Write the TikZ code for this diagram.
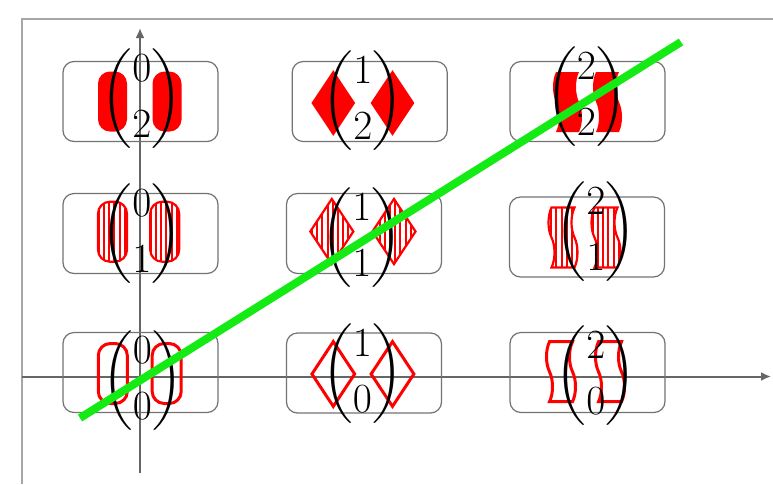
\documentclass[tikz,border=0pt]{standalone}
\usepackage{amsmath}
\usetikzlibrary{shapes.geometric,shapes.symbols,arrows.meta,patterns.meta}
\begin{document}
\begin{tikzpicture}[x=0.5pt,y=-0.5pt,
  cell/.style={draw=black!55, line width=0.6pt, rounded corners=5.5pt,
    minimum width=77.5pt, minimum height=40pt, inner sep=0pt},
  entry/.style={inner sep=0pt, font=\fontsize{20}{24}\selectfont},
  solidfill/.style={fill=red, draw=none},
  striped/.style={draw=red, line width=1.1pt,
    pattern={Lines[angle=90,distance=2.6pt,line width=1pt]}, pattern color=red},
  outlined/.style={draw=red, line width=1.5pt},
  pill/.style={rectangle, rounded corners=6pt, inner sep=0pt,
    minimum width=14.5pt, minimum height=30pt},
  rhomb/.style={diamond, inner sep=0pt, minimum width=22pt, minimum height=33pt},
  band/.style={tape, rotate=90, tape bend height=3pt, inner sep=0pt,
    minimum width=30pt, minimum height=14.5pt},
  axis/.style={draw=black!60, line width=1pt, -{Latex[length=5pt,width=4.5pt]}},
  frameline/.style={draw=black!35, line width=1pt},
]
\useasboundingbox[fill=white] (0,0) rectangle (773,484);

% outer frame
\coordinate (fc) at (21.7,19);
\coordinate (fr) at (773,19);
\coordinate (fb) at (21.7,484);
\draw[frameline] (fb) -- (fc) -- (fr);

% axes
\coordinate (xs) at (21.7,376.5);
\coordinate (xe) at (771,376.5);
\coordinate (ys) at (140,473);
\coordinate (ye) at (140,28);
\draw[axis] (xs) -- (xe);
\draw[axis] (ys) -- (ye);

% boxes
\node[cell] (b20) at (140.5,101.5) {};
\node[cell] (b21) at (369.7,101.5) {};
\node[cell] (b22) at (587.5,101.5) {};
\node[cell] (b10) at (140.5,233.5) {};
\node[cell] (b11) at (364,233.5) {};
\node[cell] (b12) at (587,237) {};
\node[cell] (b00) at (140.5,372.5) {};
\node[cell] (b01) at (364,373) {};
\node[cell] (b02) at (587.5,372.5) {};

% top row: solid shapes
\node[pill,solidfill] (l20) at (112.5,101.5) {};
\node[pill,solidfill] (r20) at (167,101.5) {};
\node[rhomb,solidfill] (l21) at (333.3,103) {};
\node[rhomb,solidfill] (r21) at (392.5,103) {};
\node[band,solidfill] (l22) at (567.5,102) {};
\node[band,solidfill] (r22) at (607.5,102) {};

% middle row: striped shapes
\node[pill,striped] (l10) at (112.5,231.7) {};
\node[pill,striped] (r10) at (164.7,231.7) {};
\node[rhomb,striped] (l11) at (331.8,231.5) {};
\node[rhomb,striped] (r11) at (394,231.5) {};
\node[band,striped] (l12) at (563,237.5) {};
\node[band,striped] (r12) at (606,237.5) {};

% bottom row: outlined shapes
\node[pill,outlined] (l00) at (112.8,373.5) {};
\node[pill,outlined] (r00) at (166.7,373.5) {};
\node[rhomb,outlined] (l01) at (333.3,374) {};
\node[rhomb,outlined] (r01) at (392.5,374) {};
\node[band,outlined] (l02) at (561,371.7) {};
\node[band,outlined] (r02) at (610,371.7) {};

% binomial entries
\node[entry] (t20) at (142,99) {$\displaystyle\binom{0}{2}$};
\node[entry] (t21) at (363,101) {$\displaystyle\binom{1}{2}$};
\node[entry] (t22) at (586.5,97) {$\displaystyle\binom{2}{2}$};
\node[entry] (t10) at (142,234) {$\displaystyle\binom{0}{1}$};
\node[entry] (t11) at (362,238) {$\displaystyle\binom{1}{1}$};
\node[entry] (t12) at (596,232) {$\displaystyle\binom{2}{1}$};
\node[entry] (t00) at (142.5,381) {$\displaystyle\binom{0}{0}$};
\node[entry] (t01) at (362.5,374) {$\displaystyle\binom{1}{0}$};
\node[entry] (t02) at (596,376) {$\displaystyle\binom{2}{0}$};

% green line
\coordinate (gs) at (80,418);
\coordinate (ge) at (681,42);
\draw[draw={rgb,255:red,20;green,235;blue,20}, line width=4pt] (gs) -- (ge);
\end{tikzpicture}
\end{document}
